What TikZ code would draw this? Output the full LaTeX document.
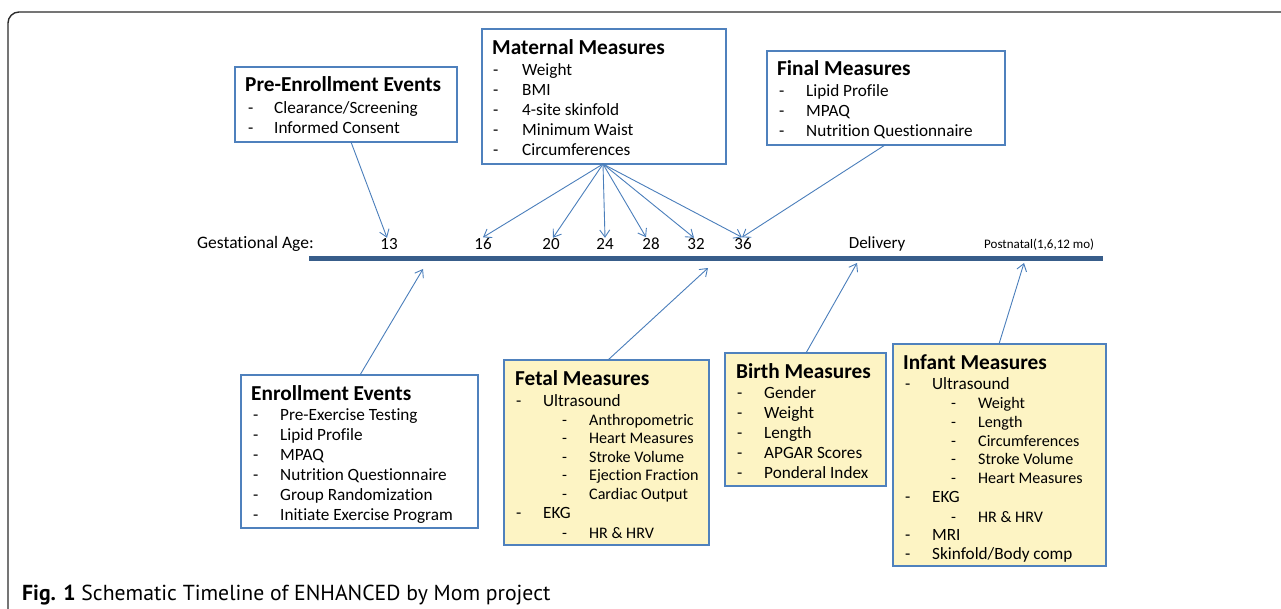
\documentclass[tikz,border=0pt]{standalone}
\usepackage{fontspec}
\setmainfont{Carlito}[Ligatures=NoCommon]
\newfontfamily\capfont{PT Sans}
\usetikzlibrary{arrows.meta}
\definecolor{boxblue}{HTML}{4F81BD}
\definecolor{arrblue}{HTML}{4A7EBB}
\definecolor{barblue}{HTML}{385D8A}
\definecolor{paleyel}{HTML}{FDF4C4}
\definecolor{framegray}{HTML}{2B2B2B}
\tikzset{
  mbox/.style={draw=boxblue, line width=2pt, inner sep=0pt, outer sep=0pt, rectangle},
  ttl/.style={font=\fontsize{21.3}{23}\selectfont\bfseries, inner sep=0pt, anchor=base west},
  itm/.style={font=\fontsize{17.2}{19}\selectfont, inner sep=0pt, anchor=base west},
  subitm/.style={font=\fontsize{16.1}{18}\selectfont, inner sep=0pt, anchor=base west},
  axlbl/.style={font=\fontsize{17}{19}\selectfont, inner sep=1pt, anchor=base},
  conn/.style={draw=arrblue, line width=0.9pt, -{Straight Barb[length=7pt,width=10pt,line width=0.9pt]}},
}
\newcommand\bline[5]{\node[itm] (#1) at (#2,#3) {\makebox[#4pt][l]{-}#5};}
\newcommand\bsub[5]{\node[subitm] (#1) at (#2,#3) {\makebox[#4pt][l]{-}#5};}
\begin{document}
\begin{tikzpicture}[x=1pt,y=-1pt]
\useasboundingbox (0,0) rectangle (1281,609);
% outer frame
\draw[framegray, line width=1.4pt, rounded corners=11pt] (8,615) -- (8,12) -- (1290,12);

% timeline bar
\coordinate (barL) at (309,259);
\coordinate (barR) at (1103,259);
\draw[barblue, line width=5pt] (barL) -- (barR);

% axis labels
\node[itm, font=\fontsize{17.5}{19}\selectfont] (ga) at (197,249) {Gestational Age:};
\node[axlbl] (n13) at (389,250) {13};
\node[axlbl] (n16) at (483,250) {16};
\node[axlbl] (n20) at (551,250) {20};
\node[axlbl] (n24) at (605,250) {24};
\node[axlbl] (n28) at (651,250) {28};
\node[axlbl] (n32) at (696,250) {32};
\node[axlbl] (n36) at (743,250) {36};
\node[axlbl] (del) at (877,249) {Delivery};
\node[itm, font=\fontsize{13}{15}\selectfont] (post) at (984,249) {Postnatal(1,6,12 mo)};

% ---------- top boxes ----------
\node[mbox, minimum width=222pt, minimum height=75pt] (pe) at (346,104.5) {};
\node[ttl] (pe-t) at (245,92) {Pre-Enrollment Events};
\bline{pe-1}{248}{113.5}{26}{Clearance/Screening}
\bline{pe-2}{248}{133.5}{26}{Informed Consent}

\node[mbox, minimum width=244pt, minimum height=135pt] (mat) at (604,96.5) {};
\node[ttl] (mat-t) at (492,55) {Maternal Measures};
\bline{mat-1}{493}{75.5}{29}{Weight}
\bline{mat-2}{493}{95.5}{29}{BMI}
\bline{mat-3}{493}{115.5}{29}{4-site skinfold}
\bline{mat-4}{493}{135.5}{29}{Minimum Waist}
\bline{mat-5}{493}{155.5}{29}{Circumferences}

\node[mbox, minimum width=238pt, minimum height=94pt] (fin) at (886,98) {};
\node[ttl] (fin-t) at (777,76) {Final Measures};
\bline{fin-1}{779}{96.5}{27}{Lipid Profile}
\bline{fin-2}{779}{116.5}{27}{MPAQ}
\bline{fin-3}{779}{136.5}{27}{Nutrition Questionnaire}

% ---------- bottom boxes ----------
\node[mbox, fill=white, minimum width=237pt, minimum height=153pt] (enr) at (359.5,451.5) {};
\node[ttl] (enr-t) at (251,400) {Enrollment Events};
\bline{enr-1}{253}{420.5}{27}{Pre-Exercise Testing}
\bline{enr-2}{253}{440.5}{27}{Lipid Profile}
\bline{enr-3}{253}{460.5}{27}{MPAQ}
\bline{enr-4}{253}{480.5}{27}{Nutrition Questionnaire}
\bline{enr-5}{253}{500.5}{27}{Group Randomization}
\bline{enr-6}{253}{520.5}{27}{Initiate Exercise Program}

\node[mbox, fill=paleyel, minimum width=205pt, minimum height=185pt] (fet) at (606.5,452.5) {};
\node[ttl] (fet-t) at (515,385) {Fetal Measures};
\bline{fet-1}{516}{406.5}{27}{Ultrasound}
\bsub{fet-2}{562}{425.5}{27}{Anthropometric}
\bsub{fet-3}{562}{443.5}{27}{Heart Measures}
\bsub{fet-4}{562}{462.5}{27}{Stroke Volume}
\bsub{fet-5}{562}{480.5}{27}{Ejection Fraction}
\bsub{fet-6}{562}{499.5}{27}{Cardiac Output}
\bline{fet-7}{516}{518.5}{27}{EKG}
\bsub{fet-8}{562}{538.5}{27}{HR \& HRV}

\node[mbox, fill=paleyel, minimum width=161pt, minimum height=133pt] (bir) at (805.5,419.5) {};
\node[ttl] (bir-t) at (736,378) {Birth Measures};
\bline{bir-1}{737}{398.5}{27}{Gender}
\bline{bir-2}{737}{418.5}{27}{Weight}
\bline{bir-3}{737}{438.5}{27}{Length}
\bline{bir-4}{737}{458.5}{27}{APGAR Scores}
\bline{bir-5}{737}{478.5}{27}{Ponderal Index}

\node[mbox, fill=paleyel, minimum width=213pt, minimum height=222pt] (inf) at (999.5,455) {};
\node[ttl] (inf-t) at (903,369) {Infant Measures};
\bline{inf-1}{905}{389.5}{27}{Ultrasound}
\bsub{inf-2}{951}{408.5}{27}{Weight}
\bsub{inf-3}{951}{427.5}{27}{Length}
\bsub{inf-4}{951}{446.5}{27}{Circumferences}
\bsub{inf-5}{951}{464.5}{27}{Stroke Volume}
\bsub{inf-6}{951}{483.5}{27}{Heart Measures}
\bline{inf-7}{905}{502.5}{27}{EKG}
\bsub{inf-8}{951}{522.5}{27}{HR \& HRV}
\bline{inf-9}{905}{540.5}{27}{MRI}
\bline{inf-10}{905}{559.5}{27}{Skinfold/Body comp}

% ---------- connectors ----------
\draw[conn] ([xshift=5pt]pe.south) -- ([xshift=-2pt]n13.north);
\coordinate (matsrc) at ([xshift=-1pt]mat.south);
\draw[conn] (matsrc) -- (n16.north);
\draw[conn] (matsrc) -- ([xshift=2pt]n20.north);
\draw[conn] (matsrc) -- (n24.north);
\draw[conn] (matsrc) -- ([xshift=-5pt]n28.north);
\draw[conn] (matsrc) -- ([xshift=-2pt]n32.north);
\draw[conn] (matsrc) -- ([xshift=-1pt]n36.north);
\draw[conn] ([xshift=-1pt]fin.south) -- ([xshift=-1pt]n36.north);

\coordinate (tE) at (423,269);
\coordinate (tF) at (708,268);
\coordinate (tB) at (857,263);
\coordinate (tI) at (1024,263);
\draw[conn] ([xshift=0.5pt]enr.north) -- (tE);
\draw[conn] ([xshift=1.5pt]fet.north) -- (tF);
\draw[conn] ([xshift=0.5pt]bir.north) -- (tB);
\draw[conn] ([xshift=-0.5pt]inf.north) -- (tI);

% caption
\node[inner sep=0pt, anchor=base west, font=\capfont\fontsize{21.7}{23}\selectfont] (cap) at (22,600) {\textbf{Fig. 1} Schematic Timeline of ENHANCED by Mom project};
\end{tikzpicture}
\end{document}
